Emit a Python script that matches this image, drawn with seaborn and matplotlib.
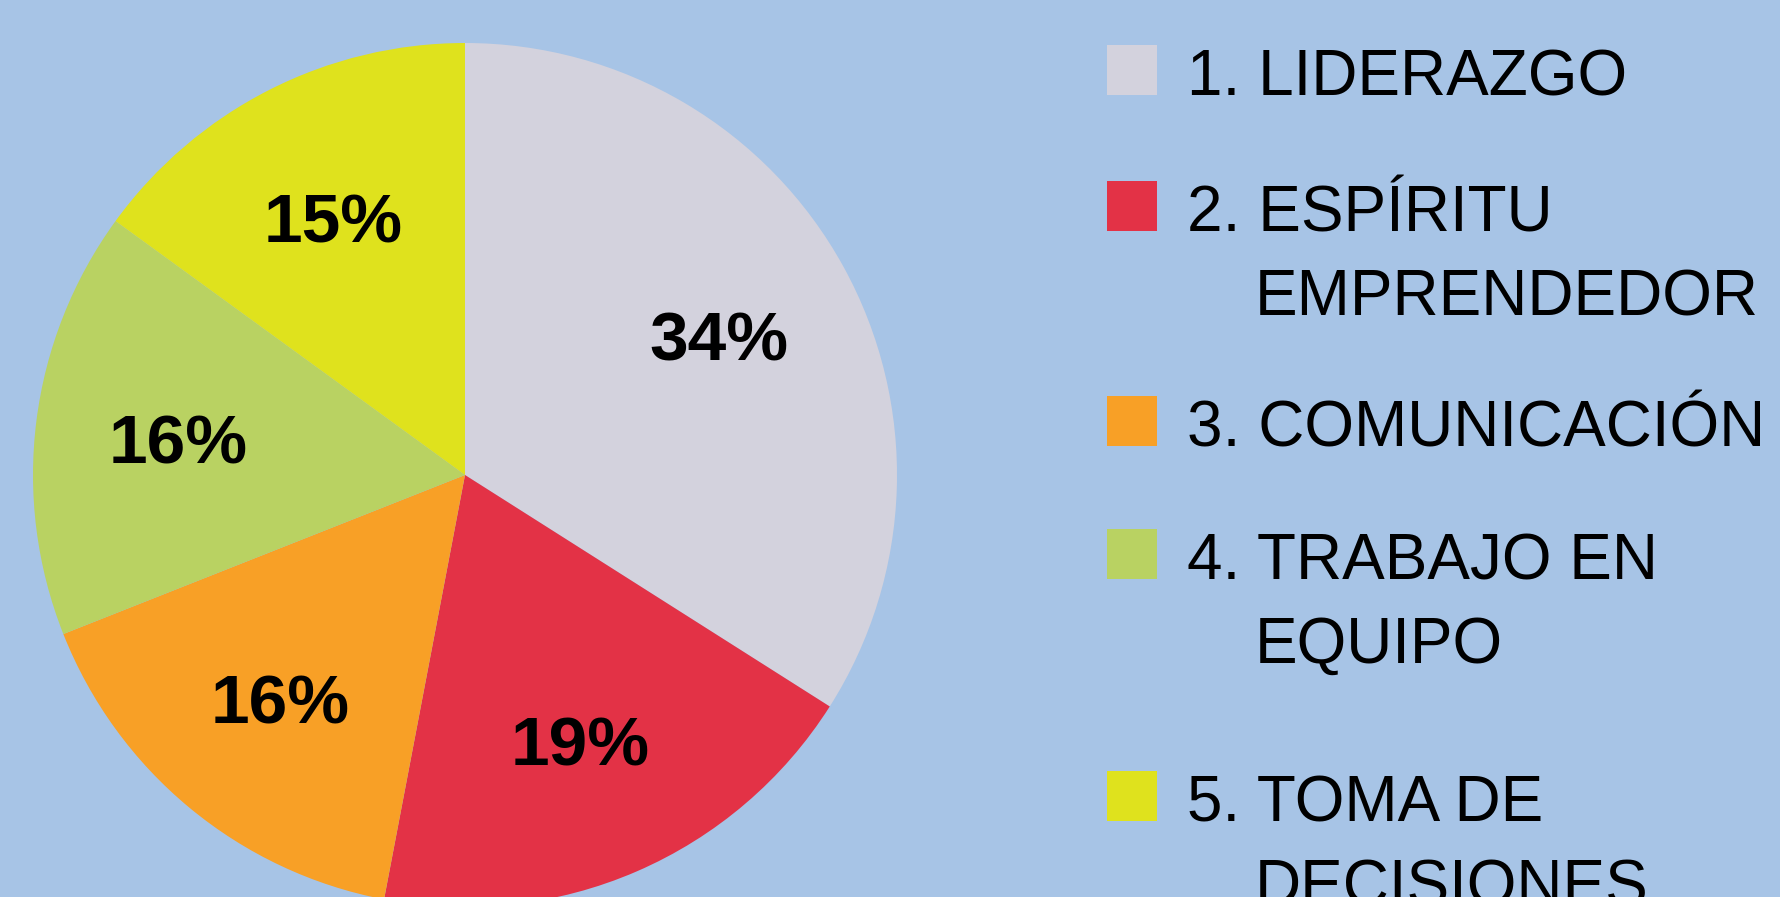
import matplotlib
matplotlib.use("Agg")
import matplotlib.pyplot as plt
import seaborn as sns
from matplotlib.patches import Rectangle

# %% data
categories = [
    "1. LIDERAZGO",
    "2. ESPÍRITU\nEMPRENDEDOR",
    "3. COMUNICACIÓN",
    "4. TRABAJO EN\nEQUIPO",
    "5. TOMA DE\nDECISIONES",
]
shares = [34, 19, 16, 16, 15]
slice_colors = ["#D3D2DD", "#E33246", "#F8A026", "#B9D262", "#DFE21D"]

BG = "#A7C4E6"
W, H = 1781, 897

sns.set_theme(style="white")
palette = sns.color_palette(slice_colors)
plt.rcParams["font.family"] = ["Liberation Sans", "DejaVu Sans"]

fig = plt.figure(figsize=(W / 100, H / 100), dpi=100)
fig.patch.set_facecolor(BG)

# pie axes: centre (465, 475) px from top-left, radius 432 px
cx, cy, r = 465, 475, 432
ax = fig.add_axes([(cx - r) / W, (H - cy - r) / H, 2 * r / W, 2 * r / H])
ax.set_facecolor(BG)

wedges, texts, autotexts = ax.pie(
    shares,
    colors=palette,
    startangle=90,
    counterclock=False,
    autopct=lambda p: f"{p:.0f}%",
    pctdistance=0.67,
    wedgeprops=dict(linewidth=0),
    textprops=dict(fontsize=50, fontweight="bold", color="black"),
)
for t in autotexts:
    t.set_va("center_baseline")
ax.set_xlim(-1, 1)
ax.set_ylim(-1, 1)
ax.set_aspect("equal")
ax.axis("off")

# %% legend, drawn by hand to keep the wrapped labels aligned
sq_x, sq_size = 1107, 50
text_x, wrap_x = 1187, 1255
baselines = [95, 231, 446, 579, 821]
line_gap = 84

for label, color, base in zip(categories, palette, baselines):
    fig.patches.append(
        Rectangle(
            (sq_x / W, (H - base) / H), sq_size / W, sq_size / H,
            transform=fig.transFigure, facecolor=color, edgecolor="none",
        )
    )
    lines = label.split("\n")
    fig.text(text_x / W, (H - base) / H, lines[0], fontsize=46,
             va="baseline", ha="left", color="black")
    for i, extra in enumerate(lines[1:], start=1):
        fig.text(wrap_x / W, (H - base - i * line_gap) / H, extra, fontsize=46,
                 va="baseline", ha="left", color="black")

fig.savefig("out.png", dpi=100, facecolor=BG)
